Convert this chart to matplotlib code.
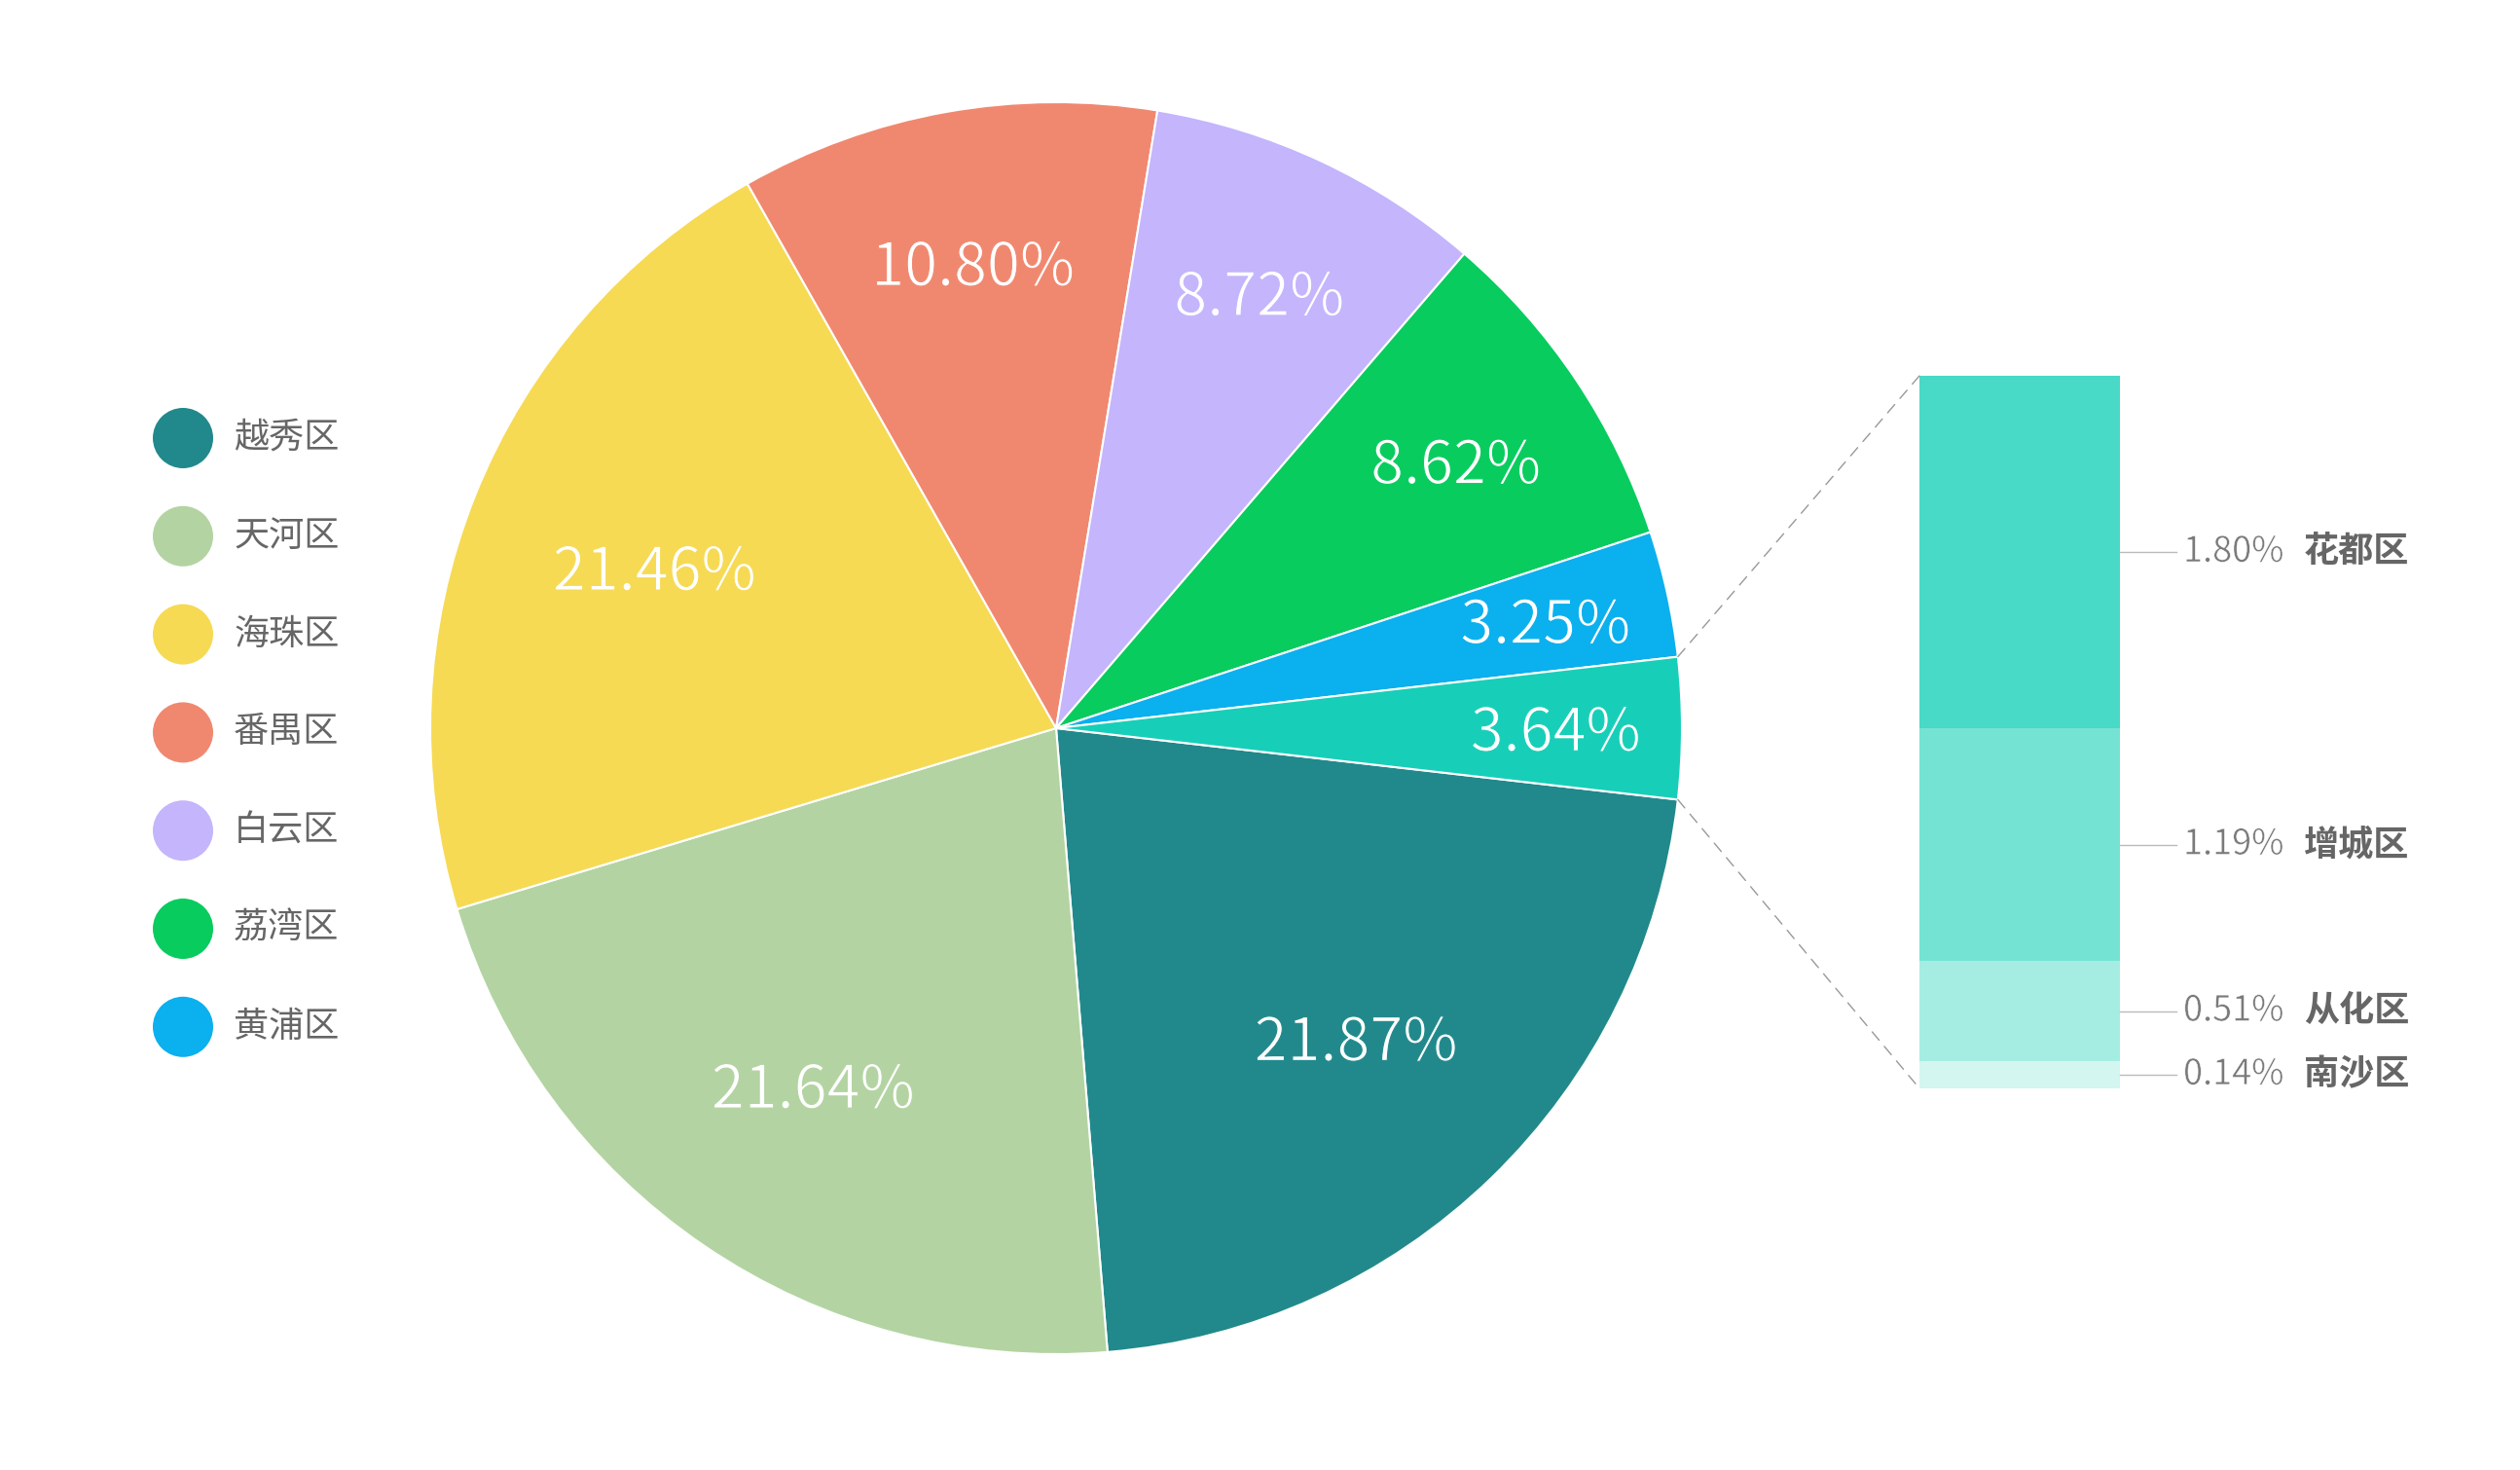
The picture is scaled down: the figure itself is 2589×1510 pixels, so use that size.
import numpy as np
import matplotlib
matplotlib.use("Agg")
import matplotlib.pyplot as plt
import matplotlib.patheffects as pe
from matplotlib.patches import Circle, ConnectionPatch

plt.rcParams['font.family'] = ['Noto Sans CJK SC', 'DejaVu Sans']

# --- data ---
districts = ["越秀区", "天河区", "海珠区", "番禺区", "白云区", "荔湾区", "黄浦区"]
shares = [21.87, 21.64, 21.46, 10.80, 8.72, 8.62, 3.25]
other_share = 3.64
colors = ["#21898B", "#B3D4A2", "#F6DA54", "#F08870", "#C4B5FC", "#08CC5E", "#0BB0EE"]
other_color = "#17CFB8"

sub_districts = ["花都区", "增城区", "从化区", "南沙区"]
sub_shares = [1.80, 1.19, 0.51, 0.14]
sub_colors = ["#48D9C7", "#75E3D4", "#A5EDE2", "#D3F6F1"]

W, H = 2589, 1510
fig = plt.figure(figsize=(W / 100, H / 100), dpi=100)
ax = fig.add_axes([0, 0, 1, 1])

# pie (pixel coords, y up)
cx, cy, r = 1085, H - 748, 643
vals = shares + [other_share]
cols = colors + [other_color]
start = -other_share / sum(vals) * 360 / 2
wedges, _ = ax.pie(vals, colors=cols, startangle=start, counterclock=False,
                   center=(cx, cy), radius=r,
                   wedgeprops=dict(edgecolor="white", linewidth=1.5))
ax.set_xlim(0, W)
ax.set_ylim(0, H)
ax.set_aspect("auto")
ax.axis("off")

total = sum(vals)
for w, v, c in zip(wedges, vals, cols):
    mid = np.deg2rad((w.theta1 + w.theta2) / 2)
    d = (0.82 - 0.6 * v / total) * r
    # thin the glyphs a little to mimic a light weight
    ax.text(cx + d * np.cos(mid), cy + d * np.sin(mid) - 6, f"{v:.2f}%",
            ha="center", va="center", color="white", fontsize=44,
            path_effects=[pe.Stroke(linewidth=0.8, foreground=c)])

# legend
for i, (name, c) in enumerate(zip(districts, colors)):
    y = H - (450 + i * 100.8)
    ax.add_patch(Circle((188, y), 31, color=c, lw=0))
    ax.text(240, y, name, ha="left", va="center", fontsize=26, color="#666666")

# bar of "other"
bx0, bx1, by0, by1 = 1972, 2178, 386, 1118
ax2 = fig.add_axes([bx0 / W, (H - by1) / H, (bx1 - bx0) / W, (by1 - by0) / H])
bottoms = np.concatenate([[0], np.cumsum(sub_shares)[:-1]])
ax2.bar(0, sub_shares, bottom=bottoms, width=1, color=sub_colors, lw=0)
ax2.set_xlim(-0.5, 0.5)
ax2.set_ylim(sum(sub_shares), 0)
ax2.axis("off")

px = 1.0 / (bx1 - bx0)  # bar-axes x units per pixel
for name, v, b in zip(sub_districts, sub_shares, bottoms):
    m = b + v / 2
    ax2.plot([0.5, 0.5 + 58 * px], [m, m], color="#BBBBBB", lw=1, clip_on=False)
    ax2.text(0.5 + 65 * px, m, f"{v:.2f}%", ha="left", va="center",
             fontsize=26, color="#7A7A7A", clip_on=False,
             path_effects=[pe.Stroke(linewidth=0.4, foreground="white")])
    ax2.text(0.5 + 189 * px, m, name, ha="left", va="center",
             fontsize=26, color="#666666", fontweight="bold", clip_on=False)

# dashed connectors: top edge of the "other" slice to bar top, bottom edge to bar bottom
ow = wedges[-1]
for ang, yb in [(ow.theta2, 0), (ow.theta1, sum(sub_shares))]:
    a = np.deg2rad(ang)
    con = ConnectionPatch(xyA=(cx + r * np.cos(a), cy + r * np.sin(a)), coordsA=ax.transData,
                          xyB=(-0.5, yb), coordsB=ax2.transData,
                          color="#999999", lw=1, linestyle=(0, (8, 6)))
    fig.add_artist(con)

fig.savefig("out.png", dpi=100, facecolor="white")
